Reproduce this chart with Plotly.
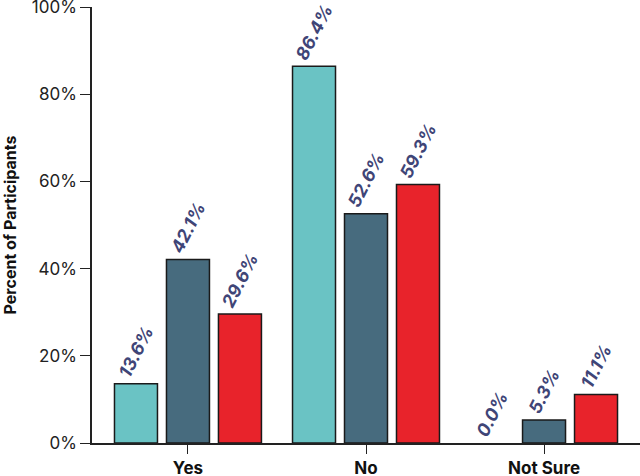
import plotly.graph_objects as go

# categories and values (percent of participants)
categories = ["Yes", "No", "Not Sure"]
group_a = [13.6, 86.4, 0.0]
group_b = [42.1, 52.6, 5.3]
group_c = [29.6, 59.3, 11.1]

colors = ["#6ac3c4", "#476b7e", "#e8232b"]
label_color = "#3f4577"

fig = go.Figure()
for vals, col in zip([group_a, group_b, group_c], colors):
    fig.add_trace(go.Bar(
        x=categories,
        y=vals,
        marker=dict(color=col, line=dict(color="#1a1a1a", width=[1.5 if v > 0 else 0 for v in vals])),
        text=[f"<i><b>{v:.1f}%</b></i>" for v in vals],
        textposition="outside",
        textangle=-63,
        constraintext="none",
        cliponaxis=False,
        textfont=dict(family="Inter", size=18, color=label_color),
        showlegend=False,
    ))

fig.update_layout(
    width=640,
    height=476,
    margin=dict(l=92, r=0, t=7, b=33),
    barmode="group",
    bargap=0.124,
    bargroupgap=0.173,
    plot_bgcolor="white",
    paper_bgcolor="white",
    font=dict(family="Inter", color="#222"),
)
fig.update_yaxes(
    range=[0, 100],
    tickvals=[0, 20, 40, 60, 80, 100],
    ticktext=["0%", "20%", "40%", "60%", "80%", "100%"],
    ticks="outside",
    ticklen=10,
    tickcolor="#222",
    showline=True,
    linecolor="#222",
    linewidth=1.5,
    showgrid=False,
    zeroline=False,
    automargin=False,
    ticklabeloverflow="allow",
    tickfont=dict(family="Inter", size=17, color="#222"),
    title=dict(text="<b>Percent of Participants</b>", font=dict(family="Inter", size=16, color="#111"), standoff=12),
)
fig.update_xaxes(
    range=[-0.539, 2.539],
    ticks="outside",
    ticklen=9,
    tickcolor="#222",
    showline=True,
    linecolor="#222",
    linewidth=1.5,
    automargin=False,
    ticklabeloverflow="allow",
    tickvals=categories,
    ticktext=[f"<b>{c}</b>" for c in categories],
    tickfont=dict(family="Inter", size=17, color="#111"),
)

# page body has a default 8px margin; drop it so the chart fills the window
fig.write_html("out.html", config={"displayModeBar": False},
               post_script="document.body.style.margin='0';")
